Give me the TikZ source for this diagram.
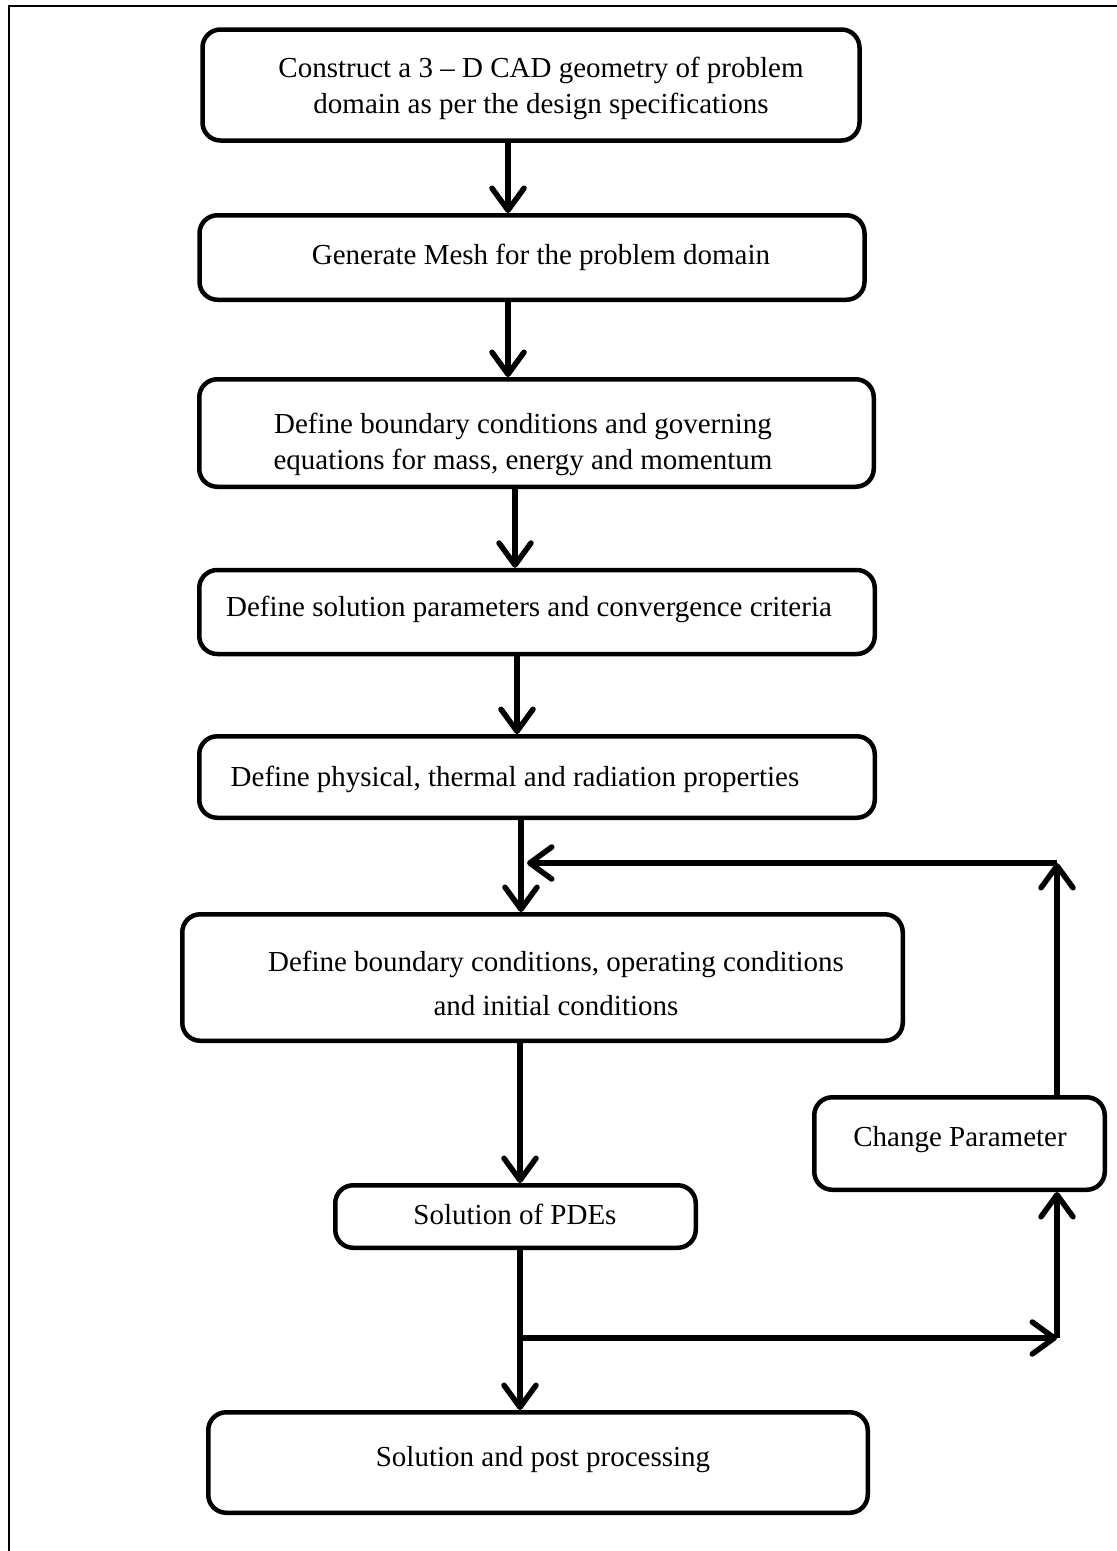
\documentclass[tikz,border=0pt]{standalone}
\usepackage{fontspec}
\setmainfont{Liberation Serif}
\usetikzlibrary{arrows.meta}
\begin{document}
\begin{tikzpicture}[x=1pt,y=-1pt,
  box/.style={draw, line width=4.5pt, rounded corners=18pt, inner sep=0pt},
  txt/.style={font=\fontsize{29}{36}\selectfont, align=center, inner sep=0pt},
  flow/.style={line width=5.5pt, -{Straight Barb[length=22pt,width=32pt,round]}},
  frameline/.style={line width=2pt}]
\useasboundingbox (0,0) rectangle (1117,1551);
\draw[frameline] (9,1551) -- (9,6) -- (1117,6);

% boxes
\node[box, minimum width=657pt, minimum height=111pt] (b1) at (531,85) {};
\node[box, minimum width=665pt, minimum height=84.5pt] (b2) at (532,257.5) {};
\node[box, minimum width=674.5pt, minimum height=107.5pt] (b3) at (536.5,433) {};
\node[box, minimum width=675.5pt, minimum height=84pt] (b4) at (537,612) {};
\node[box, minimum width=675.5pt, minimum height=81.5pt] (b5) at (537,777) {};
\node[box, minimum width=720.5pt, minimum height=126.5pt] (b6) at (542.5,977.5) {};
\node[box, minimum width=360.5pt, minimum height=62.5pt] (b7) at (515.5,1216.5) {};
\node[box, minimum width=290.5pt, minimum height=92.5pt] (b8) at (959.5,1143.5) {};
\node[box, minimum width=659.5pt, minimum height=100.5pt] (b9) at (538,1462.5) {};

% texts
\node[txt] (t1) at (541,88) {Construct a 3 -- D CAD geometry of problem\\domain as per the design specifications};
\node[txt] (t2) at (541,257) {Generate Mesh for the problem domain};
\node[txt] (t3) at (523,444) {Define boundary conditions and governing\\equations for mass, energy and momentum};
\node[txt] (t4) at (529,609) {Define solution parameters and convergence criteria};
\node[txt] (t5) at (515,779) {Define physical, thermal and radiation properties};
\node[txt, font=\fontsize{29}{44}\selectfont] (t6) at (556,983) {Define boundary conditions, operating conditions\\and initial conditions};
\node[txt] (t7) at (515,1214) {Solution of PDEs};
\node[txt] (t8) at (960,1140) {Change Parameter};
\node[txt] (t9) at (543,1460) {Solution and post processing};

% columns
\coordinate (c1) at (508,0);
\coordinate (c3) at (515,0);
\coordinate (c4) at (517,0);
\coordinate (c5) at (521,0);
\coordinate (c6) at (520,0);
\coordinate (fb) at (1057,863);
\coordinate (br) at (520,1338);
\coordinate (bc) at (1057,1338);

% connectors
\draw[flow] (b1.south -| c1) -- (b2.north -| c1);
\draw[flow] (b2.south -| c1) -- (b3.north -| c1);
\draw[flow] (b3.south -| c3) -- (b4.north -| c3);
\draw[flow] (b4.south -| c4) -- (b5.north -| c4);
\draw[flow] (b5.south -| c5) -- (b6.north -| c5);
\draw[flow] (b8.north -| fb) -- (fb);
\draw[flow] (fb) -- ([xshift=6pt]fb -| c5);
\draw[flow] (b6.south -| c6) -- (b7.north -| c6);
\draw[flow] (b7.south -| c6) -- (b9.north -| c6);
\draw[flow] (br) -- (bc);
\draw[flow] (bc) -- (b8.south -| bc);
\end{tikzpicture}
\end{document}
